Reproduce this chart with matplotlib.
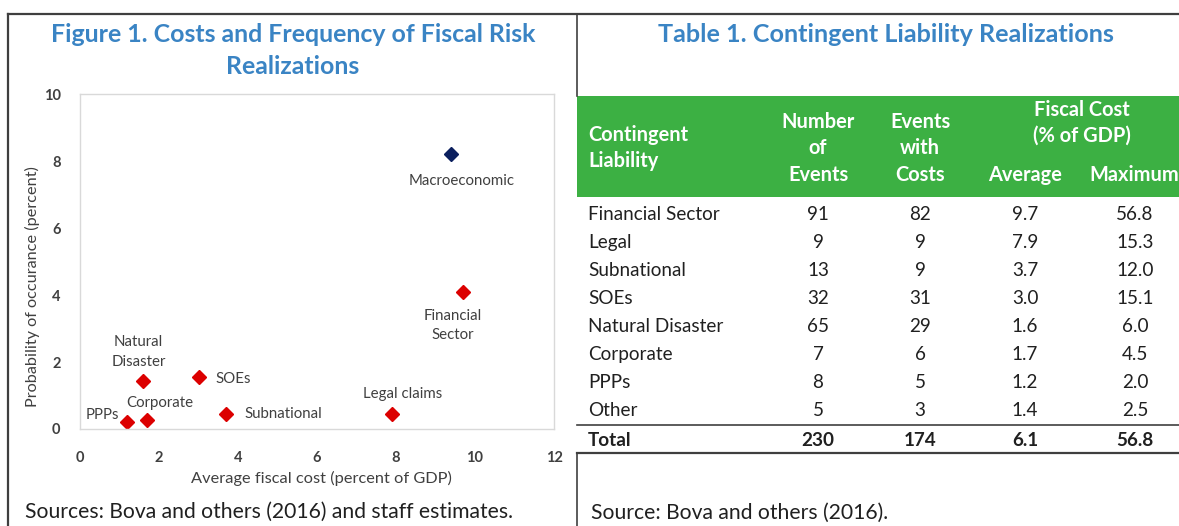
import matplotlib
matplotlib.use("Agg")
import matplotlib.pyplot as plt
from matplotlib.lines import Line2D
from matplotlib.patches import Rectangle

# ---------------- data ----------------
risk_labels = ["Macroeconomic", "Financial\nSector", "Natural\nDisaster", "SOEs",
               "Corporate", "PPPs", "Subnational", "Legal claims"]
avg_cost = [9.4, 9.7, 1.6, 3.0, 1.7, 1.2, 3.7, 7.9]
probability = [8.2, 4.1, 1.42, 1.54, 0.28, 0.22, 0.44, 0.44]

table_rows = ["Financial Sector", "Legal", "Subnational", "SOEs", "Natural Disaster",
              "Corporate", "PPPs", "Other"]
n_events = [91, 9, 13, 32, 65, 7, 8, 5]
events_with_costs = [82, 9, 9, 31, 29, 6, 5, 3]
cost_average = ["9.7", "7.9", "3.7", "3.0", "1.6", "1.7", "1.2", "1.4"]
cost_maximum = ["56.8", "15.3", "12.0", "15.1", "6.0", "4.5", "2.0", "2.5"]
total_row = ["Total", "230", "174", "6.1", "56.8"]

x_ticks = [0, 2, 4, 6, 8, 10, 12]
y_ticks = [0, 2, 4, 6, 8, 10]

# ---------------- style ----------------
plt.rcParams['font.family'] = ['Lato', 'DejaVu Sans']
W, H = 1179, 526
BLUE = '#3A84C4'
GREEN = '#3CB043'
RED = '#DC0000'
NAVY = '#0B1F5E'
TXT = '#404040'
DARK = '#202020'
FRAME = '#3F3F3F'

marker_colors = [NAVY] + [RED] * 7
# label offsets in pixels (dx, dy down) relative to marker, alignment
label_style = [
    (10, 27, 'center'),
    (-10.5, 24, 'center'),
    (-4.5, -39, 'center'),
    (17, 2, 'left'),
    (13, -17, 'center'),
    (-8, -7, 'right'),
    (18, 0, 'left'),
    (11, -20, 'center'),
]
LINE_GAP = 19.5  # px between lines of two-line labels

fig = plt.figure(figsize=(W / 100, H / 100), dpi=100)
renderer = fig.canvas.get_renderer()


def fit_group(artists, ref, target, dim='w'):
    bb = ref.get_window_extent(renderer)
    cur = bb.width if dim == 'w' else bb.height
    f = target / cur
    for a in artists:
        a.set_fontsize(a.get_fontsize() * f)


# background layout axes in pixel coordinates
bg = fig.add_axes([0, 0, 1, 1])
bg.set_xlim(0, W)
bg.set_ylim(H, 0)
bg.axis('off')

# frame lines
bg.add_line(Line2D([8, W], [14, 14], color=FRAME, lw=1.6))
bg.add_line(Line2D([8, 8], [14, H], color=FRAME, lw=1.6))
bg.add_line(Line2D([577, 577], [14, 96], color=FRAME, lw=1.2))
bg.add_line(Line2D([577, 577], [453, H], color=FRAME, lw=1.2))

# ---------------- titles ----------------
t1 = bg.text(293, 34, "Figure 1. Costs and Frequency of Fiscal Risk", color=BLUE,
             fontsize=16, fontweight='bold', ha='center', va='center')
t2 = bg.text(293, 66, "Realizations", color=BLUE, fontsize=16, fontweight='bold',
             ha='center', va='center')
t3 = bg.text(886, 34, "Table 1. Contingent Liability Realizations", color=BLUE,
             fontsize=16, fontweight='bold', ha='center', va='center')
fit_group([t1, t2], t1, 487)
fit_group([t3], t3, 456)

s1 = bg.text(25, 512, "Sources: Bova and others (2016) and staff estimates.", color=DARK,
             fontsize=13.5, ha='left', va='center')
s2 = bg.text(591, 513, "Source: Bova and others (2016).", color=DARK, fontsize=13.5,
             ha='left', va='center')
fit_group([s1, s2], s1, 487)

# ---------------- left: scatter ----------------
ax = fig.add_axes([80 / W, 1 - 429 / H, (554 - 80) / W, (429 - 94) / H])
ax.set_xlim(0, 12)
ax.set_ylim(0, 10)
ax.set_xticks(x_ticks)
ax.set_yticks(y_ticks)
ax.tick_params(length=0, labelsize=9, labelcolor=TXT)
ax.tick_params(axis='x', pad=16)
ax.tick_params(axis='y', pad=14)
for s in ax.spines.values():
    s.set_color('#D9D9D9')
    s.set_linewidth(1.0)

ann = []
for x, y, c, lab, (dx, dy, ha) in zip(avg_cost, probability, marker_colors, risk_labels, label_style):
    ax.plot([x], [y], marker='D', markersize=7.6, color=c, linestyle='none', clip_on=False)
    lines = lab.split("\n")
    for k, ln in enumerate(lines):
        yy = dy + k * LINE_GAP
        ann.append(ax.annotate(ln, xy=(x, y), xytext=(dx * 0.72, -yy * 0.72),
                               textcoords='offset points', fontsize=8.5, color=TXT,
                               ha=ha, va='center'))
ref_ann = [a for a in ann if a.get_text() == "Subnational"][0]
fit_group(ann, ref_ann, 78)

xl = ax.set_xlabel("Average fiscal cost (percent of GDP)", fontsize=9, color=TXT, labelpad=12)
yl = ax.set_ylabel("Probability of occurance (percent)", fontsize=9, color=TXT)
fit_group([xl], xl, 261)
fit_group([yl], yl, 243, dim='h')
ax.xaxis.set_label_coords(0.51, -0.125)
ax.yaxis.set_label_coords(-0.085, 0.424)

fig.canvas.draw()
tl = ax.get_yticklabels()
ref_tick = [t for t in tl if t.get_text() == "10"][0]
f_tick = 17 / ref_tick.get_window_extent(renderer).width
ax.tick_params(labelsize=9 * f_tick)
for lab in ax.get_xticklabels() + ax.get_yticklabels():
    lab.set_fontweight('bold')

# ---------------- right: table ----------------
bg.add_patch(Rectangle((577, 96), W - 577, 101, color=GREEN, lw=0))

hdr_kw = dict(color='white', fontsize=12.5, fontweight='bold', va='center')
hdr = []
hdr.append(bg.text(588, 135, "Contingent", ha='left', **hdr_kw))
hdr.append(bg.text(588, 161, "Liability", ha='left', **hdr_kw))
for yy, s in zip([122, 148, 175], ["Number", "of", "Events"]):
    hdr.append(bg.text(818, yy, s, ha='center', **hdr_kw))
for yy, s in zip([122, 148, 175], ["Events", "with", "Costs"]):
    hdr.append(bg.text(920, yy, s, ha='center', **hdr_kw))
hdr.append(bg.text(1082, 110, "Fiscal Cost", ha='center', **hdr_kw))
hdr.append(bg.text(1082, 136, "(% of GDP)", ha='center', **hdr_kw))
hdr.append(bg.text(1025, 175, "Average", ha='center', **hdr_kw))
hdr.append(bg.text(1134, 175, "Maximum", ha='center', **hdr_kw))
fit_group(hdr, hdr[0], 100)

col_x = [588, 818, 920, 1025, 1135]
row_y0, row_dy = 214, 28.1
body_kw = dict(color=DARK, fontsize=12.5, va='center')
body = []
for i, name in enumerate(table_rows):
    y = row_y0 + i * row_dy
    vals = [name, str(n_events[i]), str(events_with_costs[i]), cost_average[i], cost_maximum[i]]
    for j, v in enumerate(vals):
        body.append(bg.text(col_x[j], y, v, ha='left' if j == 0 else 'center', **body_kw))

y_tot = row_y0 + len(table_rows) * row_dy + 2
for j, v in enumerate(total_row):
    body.append(bg.text(col_x[j], y_tot, v, ha='left' if j == 0 else 'center',
                        fontweight='bold', **body_kw))
fit_group(body, body[0], 132)

bg.add_line(Line2D([577, W], [425, 425], color=FRAME, lw=1.2))
bg.add_line(Line2D([577, W], [453, 453], color=FRAME, lw=1.6))

fig.savefig("out.png", dpi=100, facecolor='white')
